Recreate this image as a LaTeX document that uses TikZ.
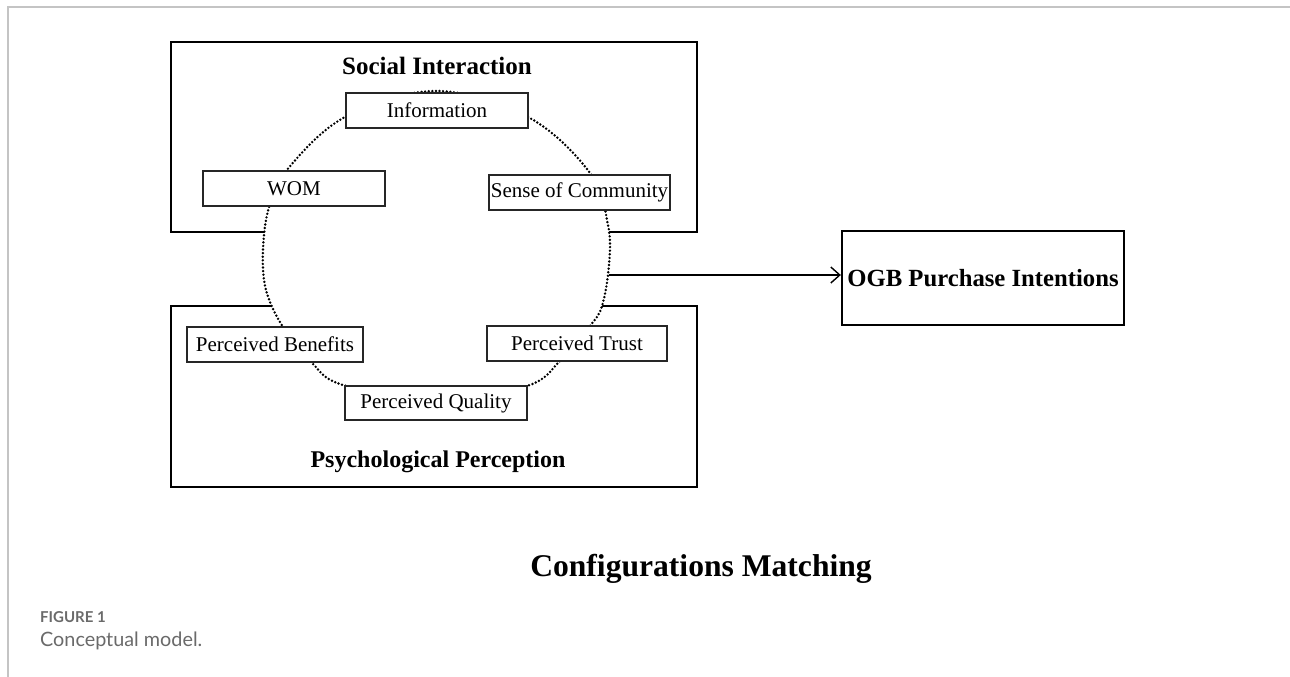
\documentclass[tikz,border=0pt]{standalone}
\usepackage{fontspec}
\setmainfont{Liberation Serif}
\newfontfamily\capfont{Lato}
\usetikzlibrary{arrows.meta}
\definecolor{framegray}{HTML}{C4C4C4}
\definecolor{capgray}{HTML}{6A6A6A}
\tikzset{
  bigbox/.style={draw=black, line width=2.3pt, rectangle, inner sep=0pt},
  smallbox/.style={draw=black!85, fill=white, line width=1.1pt, rectangle, inner sep=0pt,
     minimum height=35pt, font=\fontsize{21}{25}\selectfont},
  titletext/.style={font=\bfseries\fontsize{25}{30}\selectfont, inner sep=0pt},
  ringline/.style={line width=2.7pt, dash pattern=on 0pt off 3.6pt, line cap=round, fill=white},
  arrowline/.style={line width=1.4pt, -{Straight Barb[length=9pt,width=16pt,line width=1.4pt]}},
  captext/.style={text=capgray, inner sep=0pt, anchor=west}
}
\begin{document}
\begin{tikzpicture}[x=1pt,y=-1pt]
\useasboundingbox (0,0) rectangle (1290,677);
% journal frame
\draw[framegray, line width=2pt] (1290,7) -- (8,7) -- (8,677);
% big boxes
\node[bigbox, minimum width=526pt, minimum height=190pt] (social) at (434,137) {};
\node[bigbox, minimum width=526pt, minimum height=181pt] (psych) at (434,396.5) {};
% dotted ring
\draw[ringline] plot[smooth cycle, tension=0.6] coordinates {
  (436,91) (528,117) (590,173) (608,225) (609,265) (602,306) (590,326)
  (560,361) (527,386) (436,402) (343,385) (312,363) (283,327) (266,290)
  (263,250) (269,207) (286,171) (345,117)};
\coordinate (ringright) at (608.5,275);
% factor boxes
\node[smallbox, minimum width=182pt] (info) at (437,110.5) {Information\hspace{14pt}};
\node[smallbox, minimum width=182pt] (wom) at (294,188.5) {WOM\hspace{14pt}};
\node[smallbox, minimum width=181pt] (community) at (579.5,192.5) {Sense of Community};
\node[smallbox, minimum width=176pt] (benefits) at (275,344.5) {Perceived Benefits\hspace{8pt}};
\node[smallbox, minimum width=180pt] (trust) at (577,343.5) {Perceived Trust\hspace{26pt}};
\node[smallbox, minimum width=182pt, minimum height=34pt] (quality) at (436,403) {Perceived Quality\hspace{16pt}};
% titles
\node[titletext] (socialtitle) at (437,66) {Social Interaction};
\node[titletext, font=\bfseries\fontsize{24}{29}\selectfont] (psychtitle) at (438,462) {Psychological Perception};
% outcome
\node[bigbox, minimum width=282pt, minimum height=94pt, font=\bfseries\fontsize{24.7}{30}\selectfont] (ogb) at (983,278) {OGB Purchase Intentions};
\draw[arrowline] (ringright) -- (ringright -| ogb.west);
% bottom label
\node[titletext, font=\bfseries\fontsize{31.6}{38}\selectfont] (config) at (701,569) {Configurations Matching};
% caption
\node[captext, font=\capfont\bfseries\fontsize{15}{18}\selectfont] (figlabel) at (40,617) {FIGURE 1};
\node[captext, font=\capfont\fontsize{19.8}{24}\selectfont] (figcap) at (40,641) {Conceptual model.};
\end{tikzpicture}
\end{document}
